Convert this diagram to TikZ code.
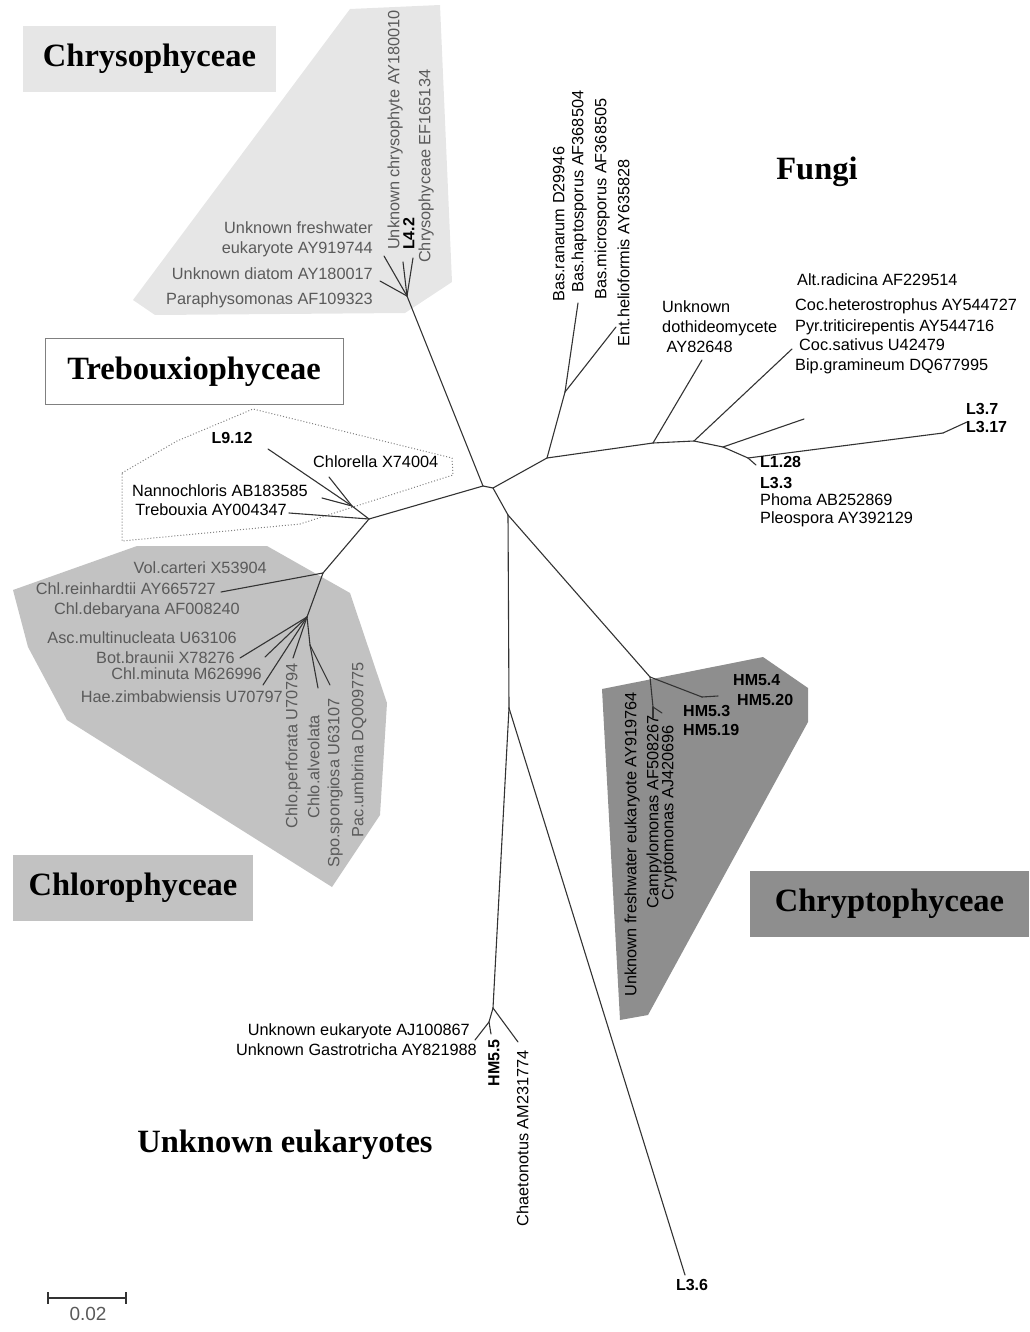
\documentclass[tikz,border=0pt]{standalone}
\usepackage{fontspec}
\setmainfont{Liberation Serif}
\setsansfont{Liberation Sans}
\usetikzlibrary{positioning}
\definecolor{chrysofill}{HTML}{E6E6E6}
\definecolor{chlorofill}{HTML}{C2C2C2}
\definecolor{cryptofill}{HTML}{8E8E8E}
\definecolor{taxgray}{HTML}{5A5A5A}
\tikzset{
  branch/.style={draw=black!80, line width=1.1pt, line cap=round},
  taxon/.style={font=\sffamily\fontsize{16.3}{20}\selectfont, inner sep=0pt},
  grey taxon/.style={taxon, text=taxgray},
  clone/.style={taxon, font=\sffamily\bfseries\fontsize{16}{20}\selectfont},
  up/.style={rotate=90},
  group title/.style={font=\bfseries\fontsize{32.5}{36}\selectfont, inner sep=0pt},
  group box/.style={group title, minimum width=#1, minimum height=66pt},
}

\begin{document}
\begin{tikzpicture}[x=1pt, y=-1pt]
  \useasboundingbox (0,0) rectangle (1029,1332);

  % shaded clades
  \fill[chrysofill] (350,9) -- (440,5) -- (452,282) -- (405,313) -- (155,315) -- (133,300) -- cycle;
  \fill[chlorofill] (13,590) -- (137,546) -- (267,546) -- (350,593) -- (387,703) -- (380,815) -- (332,887) -- (67,720) -- (28,647) -- cycle;
  \fill[cryptofill] (602,689) -- (763,657) -- (808,688) -- (808,722) -- (648,1015) -- (620,1020) -- cycle;
  \draw[gray, dotted, line width=1pt] (122,473) -- (177,441) -- (253,409) -- (452,458) -- (453,475) -- (300,524) -- (122,541) -- cycle;

  % group titles
  \node[group box=253pt, fill=chrysofill] (chrysoT) at (149.5,59) {Chrysophyceae};
  \node[group box=298pt, draw=gray, fill=white] (trebT) at (194,371.5) {Trebouxiophyceae};
  \node[group box=240pt, fill=chlorofill] (chloroT) at (133,888) {Chlorophyceae};
  \node[group box=279pt, fill=cryptofill] (cryptoT) at (889.5,903.5) {Chryptophyceae};
  \node[group title] (fungiT) at (817,172) {Fungi};
  \node[group title] (unkT) at (285,1145) {Unknown eukaryotes};

  % inner nodes of the tree
  \coordinate (A) at (483,486);
  \coordinate (B) at (493,488);
  \coordinate (C) at (407,296);
  \coordinate (T) at (369,519);
  \coordinate (T2) at (352,506);
  \coordinate (CL) at (323,573);
  \coordinate (CL2) at (307,617);
  \coordinate (CL3) at (310,645);
  \coordinate (F0) at (547,458);
  \coordinate (FB) at (565,392);
  \coordinate (F1) at (653,443);
  \coordinate (F2) at (694,441);
  \coordinate (F3) at (723,447);
  \coordinate (F4) at (748,458);
  \coordinate (F5) at (943,433);
  \coordinate (D) at (508,515);
  \coordinate (K) at (650,677);
  \coordinate (K1) at (702,697);
  \coordinate (K2) at (653,707);
  \coordinate (E) at (509,708);
  \coordinate (G) at (493,1008);
  \coordinate (G2) at (489,1022);

  % tips
  \coordinate (c1) at (384,256);
  \coordinate (c2) at (380,281);
  \coordinate (c3) at (403,262);
  \coordinate (c4) at (413,258);
  \coordinate (t1) at (268,449);
  \coordinate (t2) at (329,477);
  \coordinate (t3) at (322,498);
  \coordinate (t4) at (289,513);
  \coordinate (l1) at (221,592);
  \coordinate (l2) at (240,658);
  \coordinate (l3) at (265,657);
  \coordinate (l4) at (263,685);
  \coordinate (l5) at (293,658);
  \coordinate (l6) at (318,688);
  \coordinate (l7) at (330,685);
  \coordinate (f1) at (578,303);
  \coordinate (f2) at (616,327);
  \coordinate (f3) at (702,360);
  \coordinate (f4) at (792,349);
  \coordinate (f5) at (804,419);
  \coordinate (f6) at (756,465);
  \coordinate (f7) at (967,422);
  \coordinate (k1) at (718,696);
  \coordinate (k2) at (653,718);
  \coordinate (k3) at (662,713);
  \coordinate (g1) at (475,1040);
  \coordinate (g2) at (491,1034);
  \coordinate (g3) at (518,1042);
  \coordinate (e1) at (685,1275);

  \foreach \u/\v in {A/B, A/C, A/T, B/F0, B/D, D/E, D/K, E/G, E/e1,
                     C/c1, C/c2, C/c3, C/c4,
                     T/T2, T/t4, T2/t1, T2/t2, T2/t3, T/CL,
                     CL/l1, CL/CL2, CL2/l2, CL2/l3, CL2/l4, CL2/l5, CL2/CL3, CL3/l6, CL3/l7,
                     F0/FB, FB/f1, FB/f2, F0/F1, F1/f3, F1/F2, F2/f4, F2/F3, F3/f5, F3/F4, F4/f6, F4/F5, F5/f7,
                     K/K1, K1/k1, K/K2, K2/k2, K2/k3,
                     G/G2, G2/g1, G2/g2, G/g3}
    \draw[branch] (\u) -- (\v);

  % Chrysophyceae
  \node[grey taxon, anchor=east, align=right] (ufe) at (373,239) {Unknown freshwater\\eukaryote AY919744};
  \node[grey taxon, anchor=mid east] (udia) at (373,277) {Unknown diatom AY180017};
  \node[grey taxon, anchor=mid east] (para) at (373,302) {Paraphysomonas AF109323};
  \node[grey taxon, up, anchor=mid west] (uchr) at (397,250) {Unknown chrysophyte AY180010};
  \node[clone, up, anchor=mid west] (l42) at (412,250) {L4.2};
  \node[grey taxon, up, anchor=mid west] (chry) at (428,263) {Chrysophyceae EF165134};

  % Trebouxiophyceae
  \node[clone] (l912) at (232,438) {L9.12};
  \node[taxon, anchor=mid west] (chlo) at (313,465) {Chlorella X74004};
  \node[taxon, anchor=mid east] (nanno) at (308,494) {Nannochloris AB183585};
  \node[taxon, anchor=mid east] (trebx) at (287,513) {Trebouxia AY004347};

  % Chlorophyceae
  \node[grey taxon, anchor=mid east] (volc) at (267,571) {Vol.carteri X53904};
  \node[grey taxon, anchor=mid east] (chlr) at (216,592) {Chl.reinhardtii AY665727};
  \node[grey taxon, anchor=mid east] (chld) at (240,612) {Chl.debaryana AF008240};
  \node[grey taxon, anchor=mid east] (ascm) at (237,641) {Asc.multinucleata U63106};
  \node[grey taxon, anchor=mid east] (botb) at (235,661) {Bot.braunii X78276};
  \node[grey taxon, anchor=mid east] (chlm) at (262,677) {Chl.minuta M626996};
  \node[grey taxon, anchor=mid east] (haez) at (283,700) {Hae.zimbabwiensis U70797};
  \node[grey taxon, up, anchor=mid east] (chlp) at (295,663) {Chlo.perforata U70794};
  \node[grey taxon, up, anchor=mid east] (chla) at (317,715) {Chlo.alveolata};
  \node[grey taxon, up, anchor=mid east] (spos) at (337,698) {Spo.spongiosa U63107};
  \node[grey taxon, up, anchor=mid east] (pacu) at (361,662) {Pac.umbrina DQ009775};

  % Fungi
  \node[taxon, up, anchor=mid west] (basr) at (562,302) {Bas.ranarum D29946};
  \node[taxon, up, anchor=mid west] (bash) at (581,293) {Bas.haptosporus AF368504};
  \node[taxon, up, anchor=mid west] (basm) at (604,300) {Bas.microsporus AF368505};
  \node[taxon, up, anchor=mid west] (enth) at (627,347) {Ent.helioformis AY635828};
  \node[taxon, anchor=west, align=left] (udoth) at (662,327) {Unknown\\dothideomycete\\\ AY82648};
  \node[taxon, anchor=mid west] (altr) at (797,283) {Alt.radicina AF229514};
  \node[taxon, anchor=mid west] (coch) at (795,308) {Coc.heterostrophus AY544727};
  \node[taxon, anchor=mid west] (pyrt) at (795,329) {Pyr.triticirepentis AY544716};
  \node[taxon, anchor=mid west] (cocs) at (799,348) {Coc.sativus U42479};
  \node[taxon, anchor=mid west] (bipg) at (795,368) {Bip.gramineum DQ677995};
  \node[clone, anchor=mid west] (l37) at (966,412) {L3.7};
  \node[clone, anchor=mid west] (l317) at (966,430) {L3.17};
  \node[clone, anchor=mid west] (l128) at (760,465) {L1.28};
  \node[clone, anchor=mid west] (l33) at (760,486) {L3.3};
  \node[taxon, anchor=mid west] (phoma) at (760,503) {Phoma AB252869};
  \node[taxon, anchor=mid west] (pleo) at (760,521) {Pleospora AY392129};

  % Cryptophyceae
  \node[clone, anchor=mid west] (hm54) at (733,683) {HM5.4};
  \node[clone, anchor=mid west] (hm520) at (737,703) {HM5.20};
  \node[clone, anchor=mid west] (hm53) at (683,714) {HM5.3};
  \node[clone, anchor=mid west] (hm519) at (683,733) {HM5.19};
  \node[taxon, up, anchor=mid east] (ufe2) at (634,692) {Unknown freshwater eukaryote AY919764};
  \node[taxon, up, anchor=mid east] (campy) at (656,715) {Campylomonas AF508267};
  \node[taxon, up, anchor=mid east] (crypm) at (671,725) {Cryptomonas AJ420696};

  % unknown eukaryotes
  \node[taxon, anchor=mid east] (ueuk) at (470,1033) {Unknown eukaryote AJ100867};
  \node[taxon, anchor=mid east] (ugas) at (477,1053) {Unknown Gastrotricha AY821988};
  \node[clone, up, anchor=mid east] (hm55) at (497,1039) {HM5.5};
  \node[taxon, up, anchor=mid east] (chaet) at (526,1050) {Chaetonotus AM231774};
  \node[clone] (l36) at (692,1285) {L3.6};

  % scale bar
  \coordinate (s0) at (48,1298);
  \coordinate (s1) at (126,1298);
  \draw[black!80, line width=1.1pt] (s0) -- (s1)
    (s0) ++(0,-6) -- ++(0,12) (s1) ++(0,-6) -- ++(0,12);
  \node[grey taxon, font=\sffamily\fontsize{19}{22}\selectfont] (scale) at (88,1314) {0.02};
\end{tikzpicture}
\end{document}
